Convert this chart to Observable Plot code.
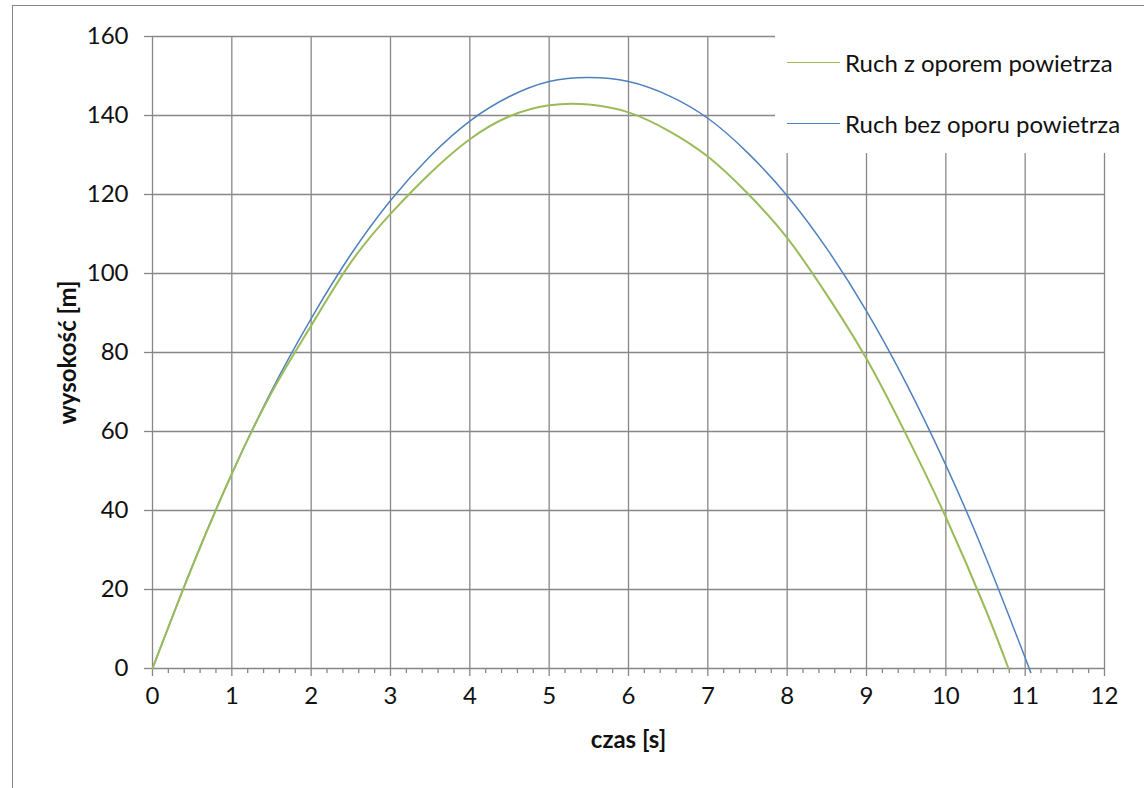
<!DOCTYPE html>
<html><head><meta charset="utf-8">
<script src="https://cdn.jsdelivr.net/npm/d3@7"></script>
<script src="https://cdn.jsdelivr.net/npm/@observablehq/plot@0.6"></script>
<style>
body{margin:0;background:#fff;}
#wrap{position:relative;width:1144px;height:788px;overflow:hidden;font-family:Lato,"Open Sans",sans-serif;background:#fff;}
#frame{position:absolute;left:12px;top:5px;width:1300px;height:1000px;border:1.5px solid #868686;box-sizing:border-box;}
#chart{position:absolute;left:0;top:0;}
#legend{position:absolute;left:775px;top:20px;width:369px;height:133px;background:#fff;}
.item{position:absolute;left:12px;height:30px;display:flex;align-items:center;font-size:24px;color:#111;}
.sw{width:53px;height:0;margin-right:5px;}
</style></head>
<body><div id="wrap"><div id="frame"></div><div id="chart"></div>
<div id="legend">
 <div class="item" style="top:27px"><div class="sw" style="border-top:1.5px solid #9bbb59"></div><span>Ruch z oporem powietrza</span></div>
 <div class="item" style="top:88px"><div class="sw" style="border-top:1.5px solid #4f81bd"></div><span>Ruch bez oporu powietrza</span></div>
</div></div>
<script>
// Ruch z oporem powietrza (green)
const timeDrag   = [0, 0.5, 1, 1.5, 2, 2.5, 3, 3.5, 4, 4.5, 5, 5.5, 6, 6.5, 7, 7.5, 8, 8.5, 9, 9.5, 10, 10.5, 10.79];
const heightDrag = [0, 25.7, 49.3, 69.8, 86.8, 102.8, 115.1, 125.4, 134.0, 139.8, 142.6, 142.8, 140.8, 136.2, 129.6, 120.3, 109.0, 94.6, 78.4, 59.2, 38.3, 15.0, 0];
// Ruch bez oporu powietrza (blue)
const timeFree   = [0, 0.5, 1, 1.5, 2, 2.5, 3, 3.5, 4, 4.5, 5, 5.5, 6, 6.5, 7, 7.5, 8, 8.5, 9, 9.5, 10, 10.5, 11, 11.05];
const heightFree = [0, 25.9, 49.3, 70.3, 88.6, 104.8, 118.5, 129.7, 138.6, 144.8, 148.6, 149.6, 148.6, 145.1, 139.3, 130.6, 119.7, 106.3, 90.5, 72.2, 51.5, 28.3, 2.7, 0];
const xTicks = [0, 1, 2, 3, 4, 5, 6, 7, 8, 9, 10, 11, 12];
const yTicks = [0, 20, 40, 60, 80, 100, 120, 140, 160];
const xLabel = "czas [s]";
const yLabel = "wysokość [m]";

const drag = timeDrag.map((t, i) => ({t, h: heightDrag[i]}));
const free = timeFree.map((t, i) => ({t, h: heightFree[i]}));
const minor = d3.range(0, 60).map(i => i / 5).filter(v => Math.abs(v - Math.round(v)) > 1e-6);
const grid = "#878787";
const font = "Lato, 'Open Sans', sans-serif";

const chart = Plot.plot({
  width: 1144, height: 788,
  marginLeft: 152, marginRight: 40, marginTop: 36, marginBottom: 120,
  x: {domain: [0, 12]},
  y: {domain: [0, 160]},
  style: {fontFamily: font, fontSize: "24px", color: "#111", background: "transparent", overflow: "visible"},
  marks: [
    Plot.gridX(xTicks, {stroke: grid, strokeOpacity: 1, strokeWidth: 1.3}),
    Plot.gridY(yTicks, {stroke: grid, strokeOpacity: 1, strokeWidth: 1.3}),
    Plot.axisX(minor, {tickSize: 5, text: null, stroke: grid, strokeWidth: 1.3, label: null}),
    Plot.axisX(xTicks, {tickSize: 8, tickPadding: 10, stroke: grid, strokeWidth: 1.3, fill: "#111", label: null, tickFormat: d => String(d)}),
    Plot.axisY(yTicks, {tickSize: 8, tickPadding: 16, stroke: grid, strokeWidth: 1.3, fill: "#111", label: null, tickFormat: d => String(d)}),
    Plot.line(free, {x: "t", y: "h", stroke: "#4f81bd", strokeWidth: 1.5, curve: "natural"}),
    Plot.line(drag, {x: "t", y: "h", stroke: "#9bbb59", strokeWidth: 2, curve: "natural"}),
    Plot.text([xLabel], {frameAnchor: "bottom", dy: 79, fontWeight: "bold", fontSize: 24, fill: "#111"}),
    Plot.text([yLabel], {frameAnchor: "left", dx: -84, rotate: -90, textAnchor: "middle", fontWeight: "bold", fontSize: 24, fill: "#111"})
  ]
});
document.getElementById("chart").appendChild(chart);
</script></body></html>
